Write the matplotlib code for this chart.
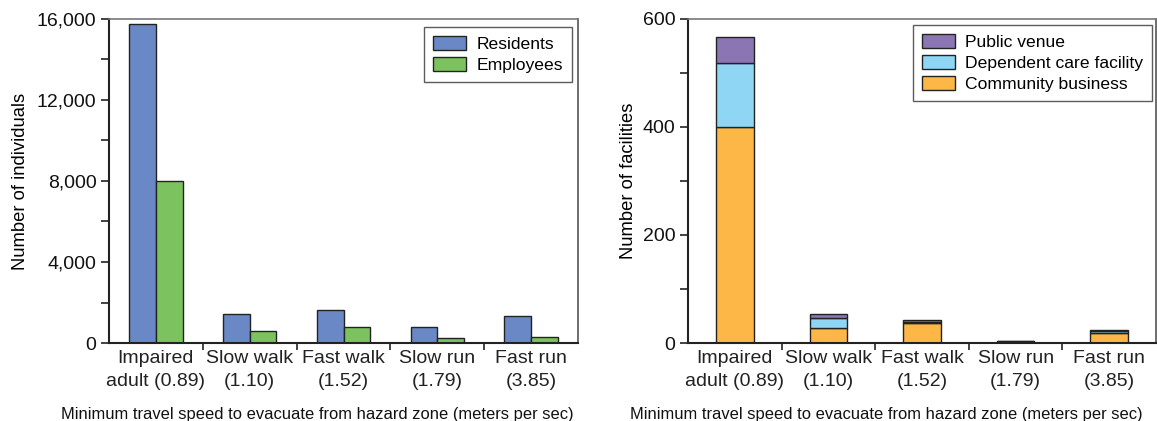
import numpy as np
import matplotlib
matplotlib.use("Agg")
import matplotlib.pyplot as plt
from matplotlib.ticker import FuncFormatter, MultipleLocator, FixedLocator

plt.rcParams['font.family'] = ['Liberation Sans', 'DejaVu Sans']

## data
categories = ["Impaired\nadult (0.89)", "Slow walk\n(1.10)", "Fast walk\n(1.52)",
              "Slow run\n(1.79)", "Fast run\n(3.85)"]
residents = [15750, 1410, 1610, 800, 1345]
employees = [7980, 590, 800, 260, 310]

community_business = [400, 28, 37, 2, 19]
dependent_care = [118, 18, 2, 1, 3]
public_venue = [49, 8, 3, 1, 3]

xlabel = "Minimum travel speed to evacuate from hazard zone (meters per sec)"

c_res = "#6a88c6"
c_emp = "#7cc35f"
c_pub = "#8b76b3"
c_dep = "#8fd6f5"
c_com = "#fcb747"
edge = "#222222"

W, H = 1157, 421
fig = plt.figure(figsize=(W / 100, H / 100), dpi=100)
ax1 = fig.add_axes([109 / W, 78 / H, 469 / W, 324 / H])
ax2 = fig.add_axes([688 / W, 78 / H, 468 / W, 324 / H])

x = np.arange(len(categories))


def style(ax):
    ax.set_xlim(-0.5, 4.5)
    ax.xaxis.set_major_locator(FixedLocator(x))
    ax.xaxis.set_minor_locator(FixedLocator(x[:-1] + 0.5))
    ax.set_xticklabels(categories, fontsize=14)
    for t in ax.get_xticklabels():
        t.set_linespacing(1.45)
    ax.tick_params(axis='x', which='major', length=0, pad=5, colors='#222222')
    ax.tick_params(axis='x', which='minor', length=5, width=1.2, direction='out', color=edge)
    ax.tick_params(axis='y', which='both', length=6, width=1.2, direction='out',
                   color=edge, labelsize=14, labelcolor='#111111', pad=3)
    for s in ['left', 'bottom']:
        ax.spines[s].set_linewidth(1.5)
        ax.spines[s].set_color(edge)
    ax.spines['top'].set_color('#777777')
    ax.spines['top'].set_linewidth(1.2)
    ax.spines['right'].set_color('#555555')
    ax.spines['right'].set_linewidth(1.2)


leg_kw = dict(fontsize=12.6, frameon=True, fancybox=False, edgecolor='#333333',
              borderaxespad=0, handlelength=1.9, handleheight=0.85,
              labelspacing=0.3, handletextpad=0.6, borderpad=0.5)

## left: individuals
w = 0.285
ax1.bar(x - w / 2, residents, w, color=c_res, edgecolor=edge, linewidth=1, label="Residents")
ax1.bar(x + w / 2, employees, w, color=c_emp, edgecolor=edge, linewidth=1, label="Employees")
ax1.set_ylim(0, 16000)
ax1.yaxis.set_major_locator(MultipleLocator(4000))
ax1.yaxis.set_minor_locator(MultipleLocator(2000))
ax1.yaxis.set_major_formatter(FuncFormatter(lambda v, p: f"{int(v):,}"))
ax1.set_ylabel("Number of individuals", fontsize=13.2, labelpad=6)
style(ax1)
leg1 = ax1.legend(loc='upper right', bbox_to_anchor=(572 / W, 1 - 27 / H),
                  bbox_transform=fig.transFigure, **leg_kw)
leg1.get_frame().set_linewidth(1)

## right: facilities (stacked)
w2 = 0.4
bottom2 = np.array(community_business) + np.array(dependent_care)
b_com = ax2.bar(x, community_business, w2, color=c_com, edgecolor=edge, linewidth=1)
b_dep = ax2.bar(x, dependent_care, w2, bottom=community_business, color=c_dep,
                edgecolor=edge, linewidth=1)
b_pub = ax2.bar(x, public_venue, w2, bottom=bottom2, color=c_pub, edgecolor=edge, linewidth=1)
ax2.set_ylim(0, 600)
ax2.yaxis.set_major_locator(MultipleLocator(200))
ax2.yaxis.set_minor_locator(MultipleLocator(100))
ax2.set_ylabel("Number of facilities", fontsize=13.2, labelpad=4)
style(ax2)
leg2 = ax2.legend([b_pub, b_dep, b_com],
                  ["Public venue", "Dependent care facility", "Community business"],
                  loc='upper right', bbox_to_anchor=(1152 / W, 1 - 25 / H),
                  bbox_transform=fig.transFigure, **leg_kw)
leg2.get_frame().set_linewidth(1)

# axis titles sit left of the axes centres in the reference
fig.text(317 / W, 1 - 414 / H, xlabel, fontsize=11.9, ha='center', va='center', color='#111111')
fig.text(886 / W, 1 - 414 / H, xlabel, fontsize=11.9, ha='center', va='center', color='#111111')

fig.savefig("out.png", dpi=100)
